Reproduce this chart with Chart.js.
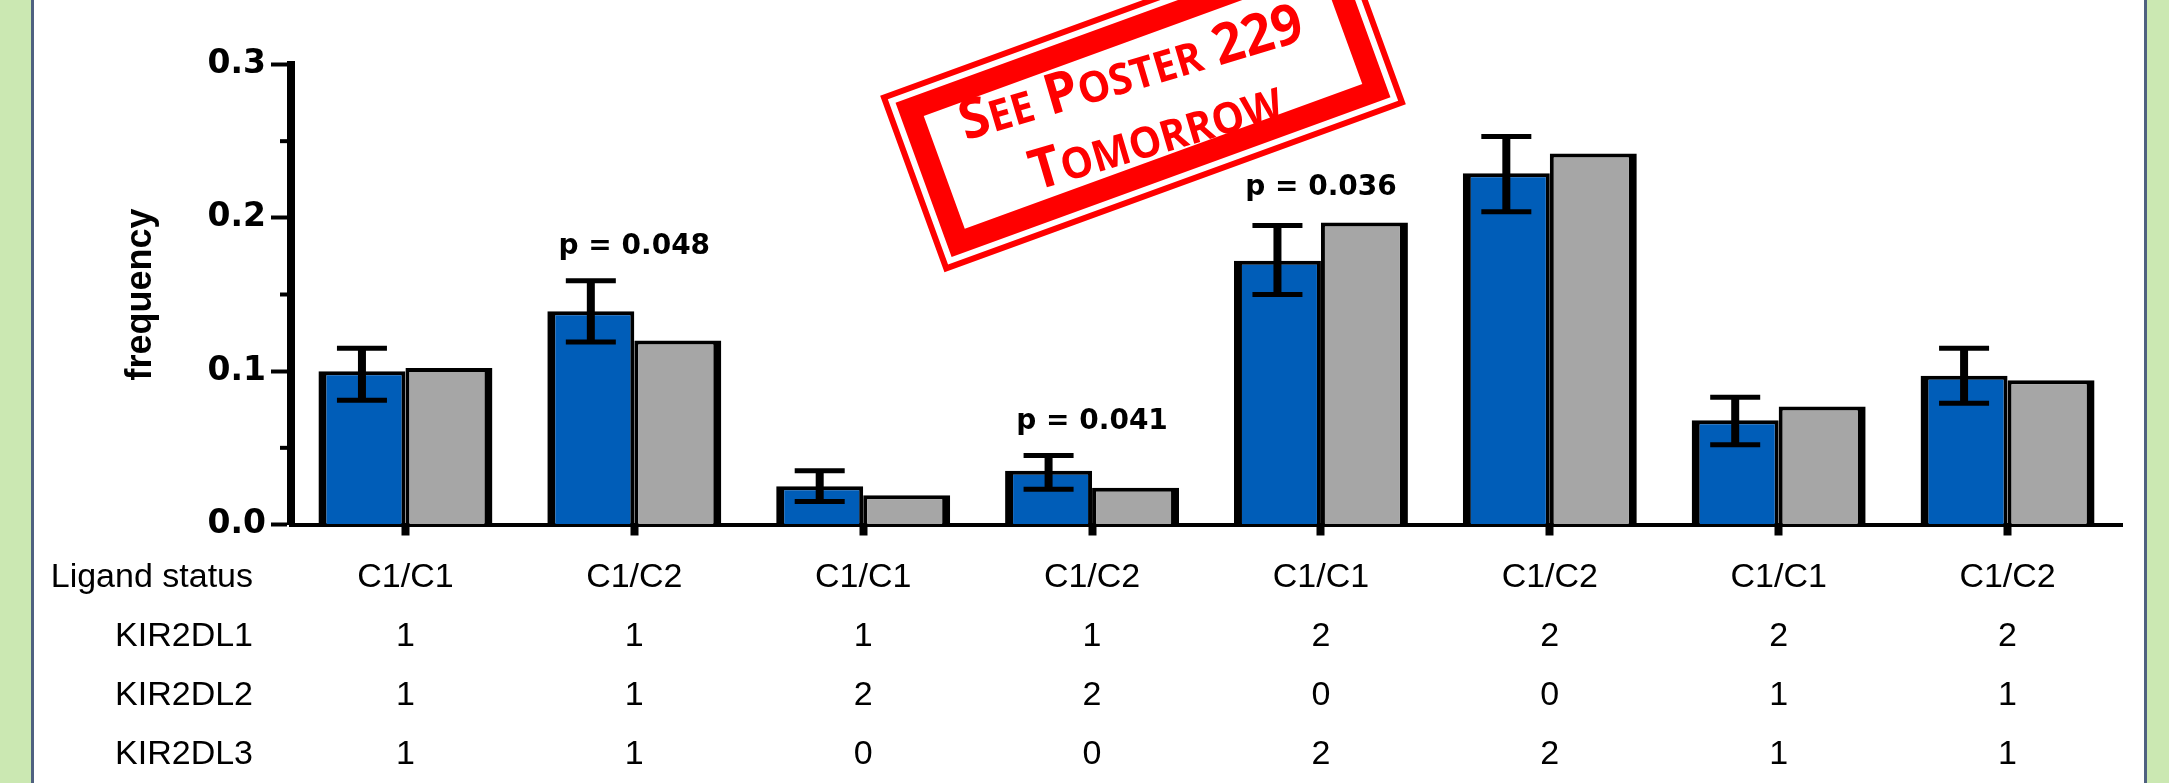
<!DOCTYPE html>
<html>
<head>
<meta charset="utf-8">
<script src="https://cdn.jsdelivr.net/npm/chart.js@4.4.1/dist/chart.umd.min.js"></script>
<style>
  body { margin: 0; }
  #wrap { position: relative; width: 2169px; height: 783px; background: #cbe8b2; overflow: hidden; }
  #panel { position: absolute; left: 31px; top: 0; width: 2110px; height: 783px; background: #fff;
           border-left: 3px solid #4f6180; border-right: 3px solid #4f6180; }
  #grafico { position: absolute; left: 0; top: 0; }
</style>
</head>
<body>
<div id="wrap">
  <div id="panel"></div>
  <canvas id="grafico" width="2169" height="783"></canvas>
</div>
<script>
// Dados
const categories = ['C1/C1', 'C1/C2', 'C1/C1', 'C1/C2', 'C1/C1', 'C1/C2', 'C1/C1', 'C1/C2'];
const kir2dl1 = ['1', '1', '1', '1', '2', '2', '2', '2'];
const kir2dl2 = ['1', '1', '2', '2', '0', '0', '1', '1'];
const kir2dl3 = ['1', '1', '0', '0', '2', '2', '1', '1'];
const blueValues = [0.100, 0.139, 0.025, 0.035, 0.172, 0.229, 0.068, 0.097];
const blueErrHigh = [0.115, 0.159, 0.035, 0.045, 0.195, 0.253, 0.083, 0.115];
const blueErrLow = [0.081, 0.119, 0.015, 0.023, 0.150, 0.204, 0.052, 0.079];
const grayValues = [0.102, 0.120, 0.019, 0.024, 0.197, 0.242, 0.077, 0.094];
const pLabels = ['', 'p = 0.048', '', 'p = 0.041', 'p = 0.036', '', '', ''];
const yTickLabels = ['0.0', '0.1', '0.2', '0.3'];
const minorTicks = [0.05, 0.15, 0.25];
const tableRows = [
  ['Ligand status', categories],
  ['KIR2DL1', kir2dl1],
  ['KIR2DL2', kir2dl2],
  ['KIR2DL3', kir2dl3]
];
const stampLines = ['See Poster 229', 'Tomorrow'];

Chart.defaults.font.family = "'Liberation Sans', Arial, sans-serif";

// Marcas menores do eixo y
const minorTickPlugin = {
  id: 'minorTicks',
  afterDraw(chart) {
    const ctx = chart.ctx, y = chart.scales.y, left = chart.chartArea.left;
    ctx.save();
    ctx.strokeStyle = '#000';
    ctx.lineWidth = 4;
    minorTicks.forEach(v => {
      const py = y.getPixelForValue(v);
      ctx.beginPath();
      ctx.moveTo(left - 11, py);
      ctx.lineTo(left, py);
      ctx.stroke();
    });
    ctx.restore();
  }
};

// Barras de erro e valores de p
const errorBarPlugin = {
  id: 'errorBars',
  afterDatasetsDraw(chart) {
    const ctx = chart.ctx, y = chart.scales.y, x = chart.scales.x;
    const meta = chart.getDatasetMeta(0);
    ctx.save();
    ctx.strokeStyle = '#000';
    meta.data.forEach((bar, i) => {
      const top = y.getPixelForValue(blueErrHigh[i]);
      const bottom = y.getPixelForValue(blueErrLow[i]);
      ctx.lineWidth = 8;
      ctx.beginPath();
      ctx.moveTo(bar.x, top);
      ctx.lineTo(bar.x, bottom);
      ctx.stroke();
      ctx.lineWidth = 5;
      ctx.beginPath();
      ctx.moveTo(bar.x - 25, top);
      ctx.lineTo(bar.x + 25, top);
      ctx.moveTo(bar.x - 25, bottom);
      ctx.lineTo(bar.x + 25, bottom);
      ctx.stroke();
    });

    ctx.fillStyle = '#000';
    ctx.font = "bold 28px 'DejaVu Sans'";
    ctx.textAlign = 'center';
    ctx.textBaseline = 'alphabetic';
    pLabels.forEach((t, i) => {
      if (!t) return;
      const top = Math.min(y.getPixelForValue(blueErrHigh[i]), y.getPixelForValue(grayValues[i]));
      ctx.fillText(t, x.getPixelForValue(i), top - 27);
    });
    ctx.restore();
  }
};

// Tabela de genótipos abaixo do eixo x
const tablePlugin = {
  id: 'genotypeTable',
  afterDraw(chart) {
    const ctx = chart.ctx, x = chart.scales.x;
    const base = chart.chartArea.bottom + 62;
    ctx.save();
    ctx.fillStyle = '#000';
    ctx.font = "34px 'Liberation Sans'";
    ctx.textBaseline = 'alphabetic';
    tableRows.forEach(([label, values], r) => {
      const by = base + r * 59.3;
      ctx.textAlign = 'right';
      ctx.fillText(label, 253, by);
      ctx.textAlign = 'center';
      values.forEach((v, i) => ctx.fillText(v, x.getPixelForValue(i), by));
    });
    ctx.restore();
  }
};

function drawSmallCaps(ctx, text, cx, baseline, bigFont, smallFont) {
  const runs = [...text].map(ch => ({
    ch: ch.toUpperCase(),
    font: ch !== ch.toUpperCase() ? smallFont : bigFont
  }));
  let total = 0;
  runs.forEach(r => { ctx.font = r.font; r.w = ctx.measureText(r.ch).width; total += r.w; });
  let px = cx - total / 2;
  runs.forEach(r => { ctx.font = r.font; ctx.fillText(r.ch, px, baseline); px += r.w; });
}

// Carimbo vermelho
const stampPlugin = {
  id: 'stamp',
  afterDraw(chart) {
    const ctx = chart.ctx;
    const w = 491, h = 188;
    ctx.save();
    ctx.translate(1143, 100);
    ctx.rotate(-20 * Math.PI / 180);
    ctx.strokeStyle = '#ff0000';
    ctx.lineWidth = 6;
    ctx.strokeRect(-w / 2 + 3, -h / 2 + 3, w - 6, h - 6);
    ctx.lineWidth = 22;
    ctx.strokeRect(-w / 2 + 23, -h / 2 + 23, w - 46, h - 46);
    ctx.restore();

    ctx.save();
    ctx.fillStyle = '#ff0000';
    ctx.textAlign = 'left';
    ctx.textBaseline = 'alphabetic';
    ctx.translate(1136, 90);
    ctx.rotate(-16.5 * Math.PI / 180);
    ctx.scale(0.95, 1);
    drawSmallCaps(ctx, stampLines[0], 0, 0, "bold 56px 'Open Sans'", "bold 43px 'Open Sans'");
    drawSmallCaps(ctx, stampLines[1], 6, 68, "bold 56px 'Open Sans'", "bold 43px 'Open Sans'");
    ctx.restore();
  }
};

const ctx = document.getElementById('grafico').getContext('2d');
new Chart(ctx, {
  type: 'bar',
  data: {
    labels: categories,
    datasets: [
      {
        label: 'cases',
        data: blueValues,
        backgroundColor: '#005db8',
        borderColor: '#000',
        borderWidth: { top: 4, left: 8, right: 4, bottom: 0 },
        borderSkipped: false
      },
      {
        label: 'controls',
        data: grayValues,
        backgroundColor: '#a6a6a6',
        borderColor: '#000',
        borderWidth: { top: 4, left: 4, right: 8, bottom: 0 },
        borderSkipped: false
      }
    ]
  },
  options: {
    responsive: false,
    devicePixelRatio: 1,
    animation: false,
    categoryPercentage: 0.76,
    barPercentage: 1,
    layout: { padding: { left: 0, right: 47, top: 64.5, bottom: 247.5 } },
    plugins: {
      legend: { display: false },
      tooltip: { enabled: false }
    },
    scales: {
      x: {
        offset: true,
        z: 1,
        ticks: { display: false },
        grid: {
          offset: false,
          drawOnChartArea: false,
          tickLength: 11,
          tickWidth: 8,
          tickColor: '#000'
        },
        border: { color: '#000', width: 4 }
      },
      y: {
        min: 0,
        max: 0.3,
        ticks: {
          stepSize: 0.1,
          padding: 5,
          color: '#000',
          font: { family: 'DejaVu Sans', weight: 'bold', size: 33 },
          callback: (value, index) => yTickLabels[index]
        },
        grid: {
          drawOnChartArea: false,
          tickLength: 20,
          tickWidth: 4,
          tickColor: '#000'
        },
        border: { color: '#000', width: 8 },
        title: {
          display: true,
          text: 'frequency',
          color: '#000',
          font: { family: 'Liberation Sans', weight: 'bold', size: 36 },
          padding: { top: 119, bottom: 0 }
        },
        afterFit: scale => { scale.width = 291; }
      }
    }
  },
  plugins: [minorTickPlugin, errorBarPlugin, tablePlugin, stampPlugin]
});
</script>
</body>
</html>
